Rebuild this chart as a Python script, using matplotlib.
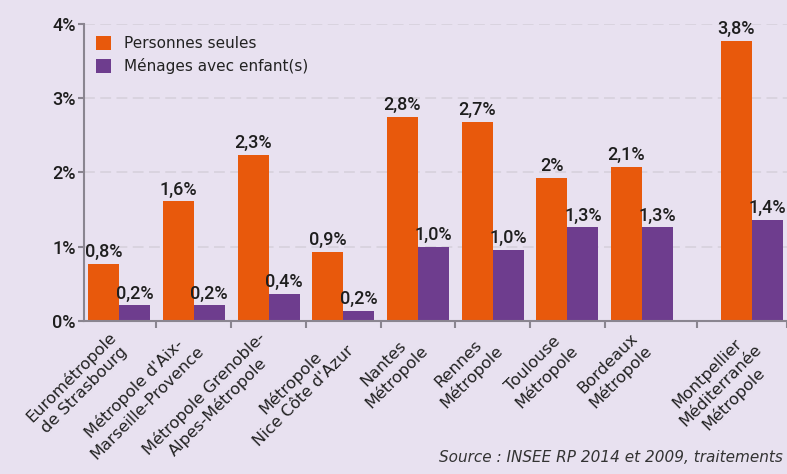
import numpy as np
import matplotlib
matplotlib.use("Agg")
import matplotlib.pyplot as plt

categories = ["Eurométropole\nde Strasbourg", "Métropole d'Aix-\nMarseille-Provence",
              "Métropole Grenoble-\nAlpes-Métropole", "Métropole\nNice Côte d'Azur",
              "Nantes\nMétropole", "Rennes\nMétropole", "Toulouse\nMétropole",
              "Bordeaux\nMétropole", "Montpellier\nMéditerranée\nMétropole"]
personnes_seules = [0.77, 1.61, 2.24, 0.93, 2.75, 2.68, 1.93, 2.07, 3.77]
menages_enfants = [0.21, 0.21, 0.37, 0.14, 1.00, 0.96, 1.26, 1.26, 1.36]
labels_seules = ["0,8%", "1,6%", "2,3%", "0,9%", "2,8%", "2,7%", "2%", "2,1%", "3,8%"]
labels_enfants = ["0,2%", "0,2%", "0,4%", "0,2%", "1,0%", "1,0%", "1,3%", "1,3%", "1,4%"]
yticks = [0, 1, 2, 3, 4]
ytick_labels = ["0%", "1%", "2%", "3%", "4%"]
series_names = ["Personnes seules", "Ménages avec enfant(s)"]
source = "Source : INSEE RP 2014 et 2009, traitements"

BG = "#E8E1F0"
ORANGE = "#E8590C"
PURPLE = "#6E3D8E"
GRAY = "#8A8590"

cond = ["Roboto", "DejaVu Sans"]

fig = plt.figure(figsize=(7.87, 4.74), dpi=100, facecolor=BG)
ax = fig.add_axes([0.1067, 0.3228, 0.8933, 0.6266], facecolor=BG)

n = len(categories)
x = np.arange(n, dtype=float)
x[-1] += 0.47
w = 0.415

ax.set_axisbelow(True)
ax.yaxis.grid(True, color="#D8D2DE", linestyle=(0, (6, 3)), linewidth=1.3)
ax.bar(x - w / 2, personnes_seules, width=w, color=ORANGE, label=series_names[0], zorder=2)
ax.bar(x + w / 2, menages_enfants, width=w, color=PURPLE, label=series_names[1], zorder=2)

for xi, v, t in zip(x, personnes_seules, labels_seules):
    ax.text(xi - w / 2, v + 0.04, t, ha="center", va="bottom", fontsize=13,
            family=cond, weight="medium", color="#1E1E1E")
for xi, v, t in zip(x, menages_enfants, labels_enfants):
    ax.text(xi + w / 2, v + 0.04, t, ha="center", va="bottom", fontsize=13,
            family=cond, weight="medium", color="#1E1E1E")

ax.set_xlim(-0.47, 8.94)
ax.set_ylim(0, 4)
ax.set_yticks(yticks)
ax.set_yticklabels(ytick_labels, family=cond, fontsize=13, weight="medium", color="#1E1E1E")
bounds = list((x[:-1] + x[1:]) / 2) + [8.94]
ax.set_xticks(x)
ax.set_xticklabels([""] * n)
ax.tick_params(axis="x", which="major", length=0)
ax.set_xticks(bounds, minor=True)
ax.tick_params(axis="x", which="minor", length=5, width=1.5, color=GRAY, direction="out")
ax.tick_params(axis="y", length=4, width=1.5, color=GRAY, pad=2)

for xi, cat in zip(x, categories):
    ax.annotate(cat, xy=(xi, 0), xycoords=("data", "axes fraction"),
                xytext=(-8, -6), textcoords="offset points",
                rotation=45, ha="right", va="top", rotation_mode="anchor",
                fontsize=11.7, family="DejaVu Sans", color="#222222",
                multialignment="center", linespacing=1.25, annotation_clip=False)

for s in ["top", "right"]:
    ax.spines[s].set_visible(False)
for s in ["left", "bottom"]:
    ax.spines[s].set_color(GRAY)
    ax.spines[s].set_linewidth(1.5)

leg = ax.legend(loc="upper left", bbox_to_anchor=(0.0, 1.0), frameon=False, fontsize=11,
                handlelength=1.0, handleheight=1.0, borderaxespad=0.3, labelspacing=0.45,
                handletextpad=0.8, borderpad=0.5)
for t in leg.get_texts():
    t.set_color("#222222")

fig.text(0.995, 0.018, source, ha="right", va="bottom", fontsize=11, style="italic",
         color="#333333")

fig.savefig("out.png", dpi=100, facecolor=BG)
